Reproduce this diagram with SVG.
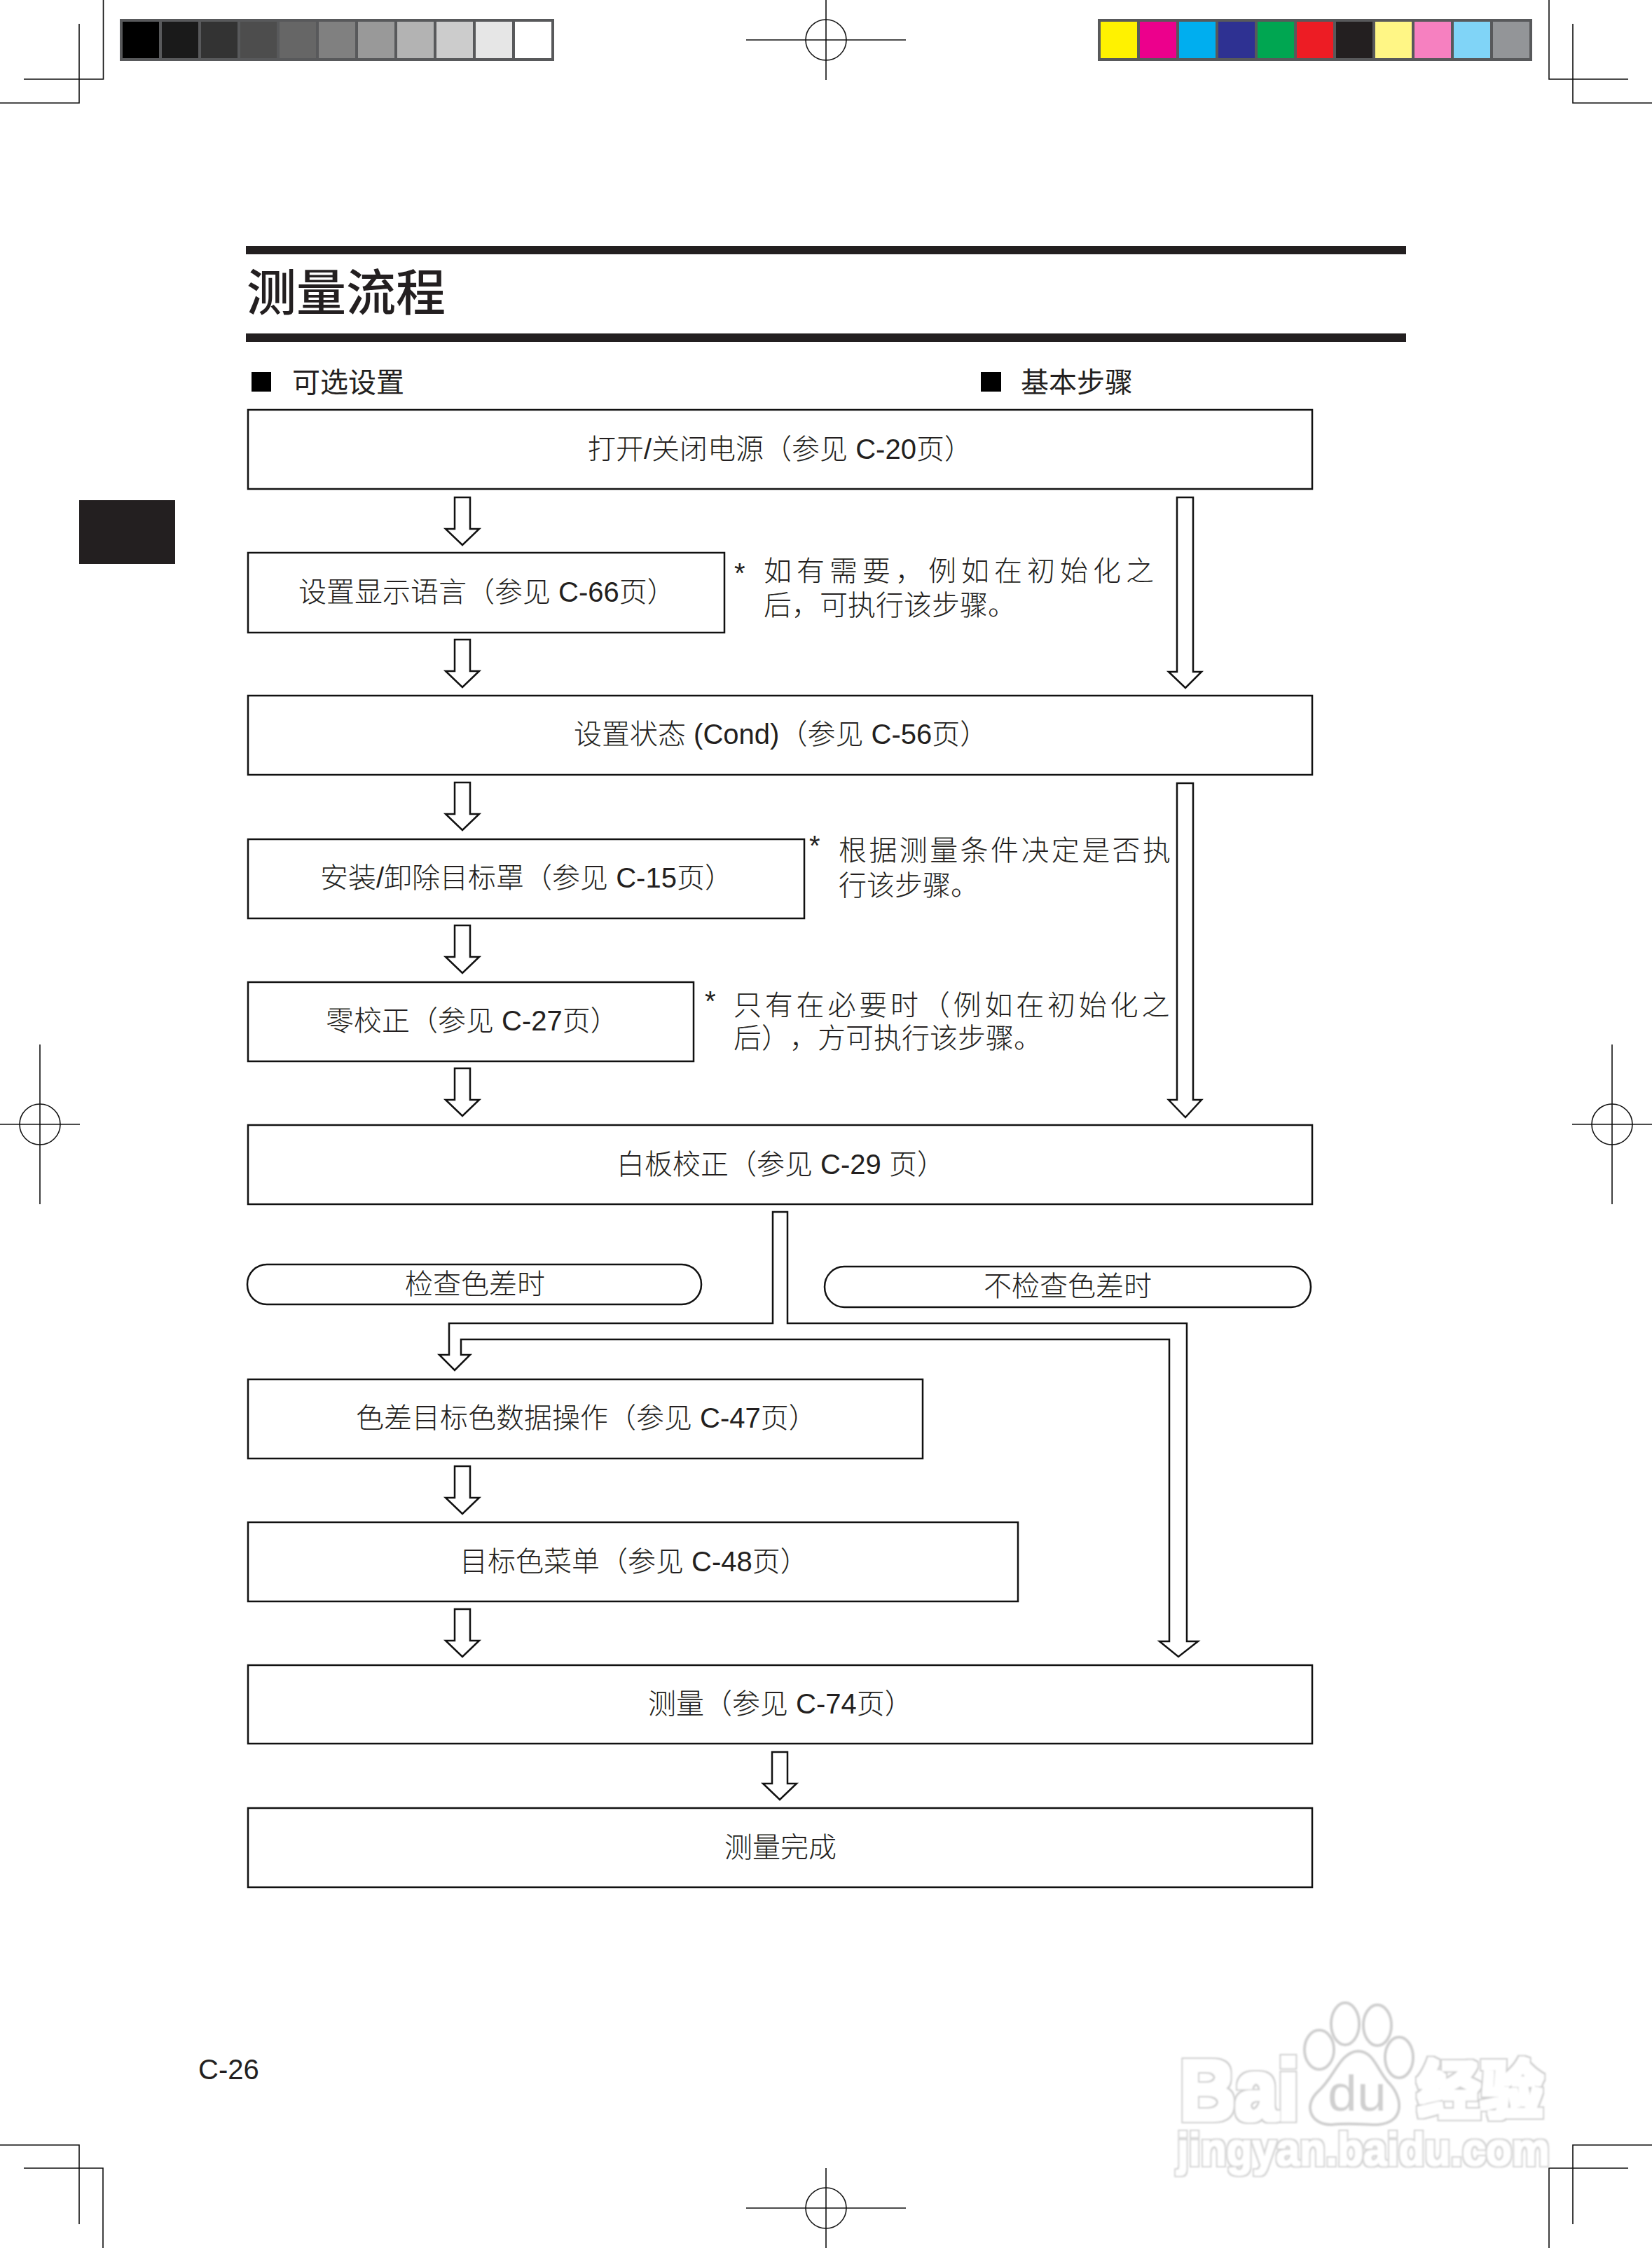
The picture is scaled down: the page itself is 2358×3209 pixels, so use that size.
<svg xmlns="http://www.w3.org/2000/svg" width="2358" height="3209" viewBox="0 0 2358 3209">
<defs>
<filter id="soft" x="-5%" y="-5%" width="110%" height="110%"><feGaussianBlur stdDeviation="1"/></filter>
<filter id="halo" x="-10%" y="-20%" width="120%" height="140%" color-interpolation-filters="sRGB">
<feMorphology in="SourceAlpha" operator="dilate" radius="5" result="o"/>
<feFlood flood-color="#cfcfcf"/><feComposite in2="o" operator="in" result="ring"/>
<feMorphology in="SourceAlpha" operator="dilate" radius="2.500" result="i"/>
<feFlood flood-color="#fff"/><feComposite in2="i" operator="in" result="inner"/>
<feMerge><feMergeNode in="ring"/><feMergeNode in="inner"/></feMerge>
</filter>
<filter id="halo2" x="-10%" y="-20%" width="120%" height="140%" color-interpolation-filters="sRGB">
<feMorphology in="SourceAlpha" operator="dilate" radius="3" result="o"/>
<feFlood flood-color="#d4d4d4"/><feComposite in2="o" operator="in" result="ring"/>
<feMorphology in="SourceAlpha" operator="dilate" radius="1" result="i"/>
<feFlood flood-color="#fff"/><feComposite in2="i" operator="in" result="inner"/>
<feMerge><feMergeNode in="ring"/><feMergeNode in="inner"/></feMerge>
</filter>
<g id="arrow"><path d="M-11 0V45H-24L0 68L24 45H11V0Z"/></g>
<g id="reg-h"><path d="M-114 0H114M0 -57V57"/><circle r="29"/></g>
<g id="reg-v"><path d="M-57 0H57M0 -114V114"/><circle r="29"/></g>
</defs>
<style>
text{font-family:"Liberation Sans","Noto Sans CJK SC",sans-serif;font-size:40px;fill:#231f20;font-weight:300;text-spacing-trim:space-all}
.cjk{font-family:"Noto Sans CJK SC","Liberation Sans",sans-serif}
.box{fill:#fff;stroke:#111;stroke-width:2.5}
.arr{fill:#fff;stroke:#111;stroke-width:2.5;stroke-linejoin:miter}
.crop{fill:none;stroke:#111;stroke-width:1.6}
.hd{font-weight:400}
.wm{font-weight:700}
.wmf{fill:#fff;stroke:#cfcfcf;stroke-width:4}
</style>
<rect width="2358" height="3209" fill="#fff"/>
<g id="crop-marks" class="crop">
<path d="M147.500 0V113H34M113 34V147H0"/>
<path d="M2211 0V113H2324M2245 34V147H2358"/>
<path d="M0 3062H113V3175M34 3095H147V3209"/>
<path d="M2358 3062H2245V3175M2324 3095H2211V3209"/>
<use href="#reg-h" x="1179" y="57"/>
<use href="#reg-v" x="57" y="1605"/>
<use href="#reg-v" x="2301" y="1605"/>
<use href="#reg-h" x="1179" y="3152"/>
</g>
<g id="gray-bar">
<rect x="171" y="27" width="620" height="60" fill="#58595b"/>
<rect x="175" y="31" width="52" height="52" fill="#000"/>
<rect x="231" y="31" width="52" height="52" fill="#1a1a1a"/>
<rect x="287" y="31" width="52" height="52" fill="#333"/>
<rect x="343" y="31" width="52" height="52" fill="#4d4d4d"/>
<rect x="399" y="31" width="52" height="52" fill="#666"/>
<rect x="455" y="31" width="52" height="52" fill="#808080"/>
<rect x="511" y="31" width="52" height="52" fill="#999"/>
<rect x="567" y="31" width="52" height="52" fill="#b3b3b3"/>
<rect x="623" y="31" width="52" height="52" fill="#ccc"/>
<rect x="679" y="31" width="52" height="52" fill="#e6e6e6"/>
<rect x="735" y="31" width="52" height="52" fill="#fff"/>
</g>
<g id="color-bar">
<rect x="1567" y="27" width="620" height="60" fill="#58595b"/>
<rect x="1571" y="31" width="52" height="52" fill="#fff200"/>
<rect x="1627" y="31" width="52" height="52" fill="#ec008c"/>
<rect x="1683" y="31" width="52" height="52" fill="#00aeef"/>
<rect x="1739" y="31" width="52" height="52" fill="#2e3192"/>
<rect x="1795" y="31" width="52" height="52" fill="#00a651"/>
<rect x="1851" y="31" width="52" height="52" fill="#ed1c24"/>
<rect x="1907" y="31" width="52" height="52" fill="#231f20"/>
<rect x="1963" y="31" width="52" height="52" fill="#fff685"/>
<rect x="2019" y="31" width="52" height="52" fill="#f680c0"/>
<rect x="2075" y="31" width="52" height="52" fill="#80d4f7"/>
<rect x="2131" y="31" width="52" height="52" fill="#939598"/>
</g>
<rect id="side-tab" x="113" y="714" width="137" height="91" fill="#231f20"/>
<g id="title">
<rect x="351" y="351" width="1656" height="12" fill="#231f20"/>
<rect x="351" y="476" width="1656" height="12" fill="#231f20"/>
<text class="cjk" x="352" y="443" style="font-size:71px;font-weight:500">测量流程</text>
</g>
<g id="header-optional">
<rect x="359" y="531" width="28" height="28" fill="#000"/>
<text class="cjk hd" x="417" y="560">可选设置</text>
</g>
<g id="header-basic">
<rect x="1400" y="531" width="29" height="28" fill="#000"/>
<text class="cjk hd" x="1457" y="560">基本步骤</text>
</g>
<g id="connectors" class="arr">
<use href="#arrow" x="660" y="710"/>
<use href="#arrow" x="660" y="913"/>
<use href="#arrow" x="660" y="1117"/>
<use href="#arrow" x="660" y="1321"/>
<use href="#arrow" x="660" y="1525"/>
<use href="#arrow" x="660" y="2093"/>
<use href="#arrow" x="660" y="2297"/>
<use href="#arrow" x="1113" y="2501"/>
<path d="M1680 710V959H1668L1692 982L1715 959H1703V710Z"/>
<path d="M1680 1118V1570H1668L1692 1595L1715 1570H1703V1118Z"/>
<path d="M1103 1730V1889H641V1934H627L649 1956L671 1934H658V1912H1669V2343H1655L1682 2365L1710 2343H1694V1889H1124V1730Z"/>
</g>
<g id="n-power"><rect class="box" x="354" y="585" width="1519" height="113"/><text x="839" y="655">打开/关闭电源（参见 C-20页）</text></g>
<g id="n-language"><rect class="box" x="354" y="789" width="680" height="114"/><text x="426" y="859">设置显示语言（参见 C-66页）</text></g>
<g id="n-cond"><rect class="box" x="354" y="993" width="1519" height="113"/><text x="819" y="1062">设置状态 (Cond)（参见 C-56页）</text></g>
<g id="n-target-mask"><rect class="box" x="354" y="1198" width="794" height="113"/><text x="457" y="1267">安装/卸除目标罩（参见 C-15页）</text></g>
<g id="n-zero"><rect class="box" x="354" y="1402" width="636" height="113"/><text x="465" y="1471">零校正（参见 C-27页）</text></g>
<g id="n-white"><rect class="box" x="354" y="1606" width="1519" height="113"/><text x="880" y="1676">白板校正（参见 C-29 页）</text></g>
<g id="n-check"><rect class="box" x="353" y="1805" width="648" height="57" rx="28" ry="28"/><text x="578" y="1847">检查色差时</text></g>
<g id="n-nocheck"><rect class="box" x="1177" y="1808" width="694" height="58" rx="28" ry="29"/><text x="1404" y="1850">不检查色差时</text></g>
<g id="n-colordiff"><rect class="box" x="354" y="1969" width="963" height="113"/><text x="508" y="2038">色差目标色数据操作（参见 C-47页）</text></g>
<g id="n-menu"><rect class="box" x="354" y="2173" width="1099" height="113"/><text x="656" y="2243">目标色菜单（参见 C-48页）</text></g>
<g id="n-measure"><rect class="box" x="354" y="2377" width="1519" height="112"/><text x="925" y="2446">测量（参见 C-74页）</text></g>
<g id="n-done"><rect class="box" x="354" y="2581" width="1519" height="113"/><text x="1034" y="2651">测量完成</text></g>
<g id="note-1">
<text x="1048" y="832">*</text>
<text x="1090" y="829" style="letter-spacing:7px">如有需要，例如在初始化之</text>
<text x="1090" y="878">后，可执行该步骤。</text>
</g>
<g id="note-2">
<text x="1155" y="1221">*</text>
<text x="1197" y="1228" style="letter-spacing:3.400px">根据测量条件决定是否执</text>
<text x="1197" y="1278">行该步骤。</text>
</g>
<g id="note-3">
<text x="1006" y="1443">*</text>
<text x="1047" y="1449" style="letter-spacing:4.800px">只有在必要时（例如在初始化之</text>
<text x="1047" y="1496">后），方可执行该步骤。</text>
</g>
<text id="page-number" x="283" y="2968">C-26</text>
<g id="watermark" filter="url(#soft)">
<text class="wm" x="1684" y="3026" textLength="170" lengthAdjust="spacingAndGlyphs" style="font-size:122px" filter="url(#halo)">Bai</text>
<ellipse class="wmf" cx="1883" cy="2926" rx="21" ry="28"/>
<ellipse class="wmf" cx="1920" cy="2889" rx="20" ry="30"/>
<ellipse class="wmf" cx="1966" cy="2891" rx="20" ry="29"/>
<ellipse class="wmf" cx="1997" cy="2937" rx="20" ry="29"/>
<path class="wmf" d="M1938 2928C1962 2928 1966 2958 1984 2975C2002 2995 2006 3030 1966 3033C1950 3033 1925 3030 1900 3033C1870 3033 1860 3005 1882 2985C1905 2965 1912 2930 1938 2928Z"/>
<text x="1895" y="3013" textLength="84" lengthAdjust="spacingAndGlyphs" style="font-size:72px;font-weight:400;fill:#cfcfcf">du</text>
<text class="wm cjk" x="2023" y="3016" textLength="180" lengthAdjust="spacingAndGlyphs" style="font-size:90px" filter="url(#halo)">经验</text>
<text class="wm" x="1680" y="3091" textLength="532" lengthAdjust="spacingAndGlyphs" style="font-size:66px" filter="url(#halo2)">jingyan.baidu.com</text>
</g>
</svg>
